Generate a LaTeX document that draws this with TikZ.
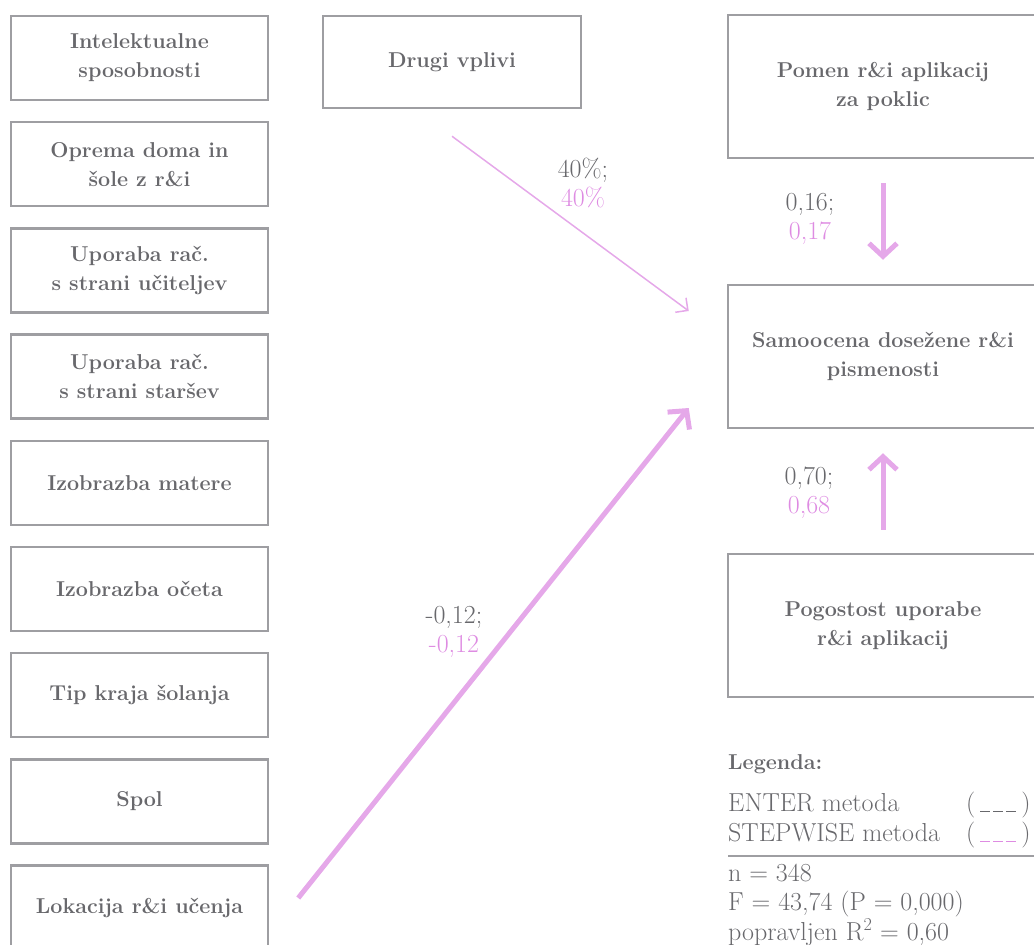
\documentclass[tikz,border=0pt]{standalone}
\usepackage{fontspec}
\usetikzlibrary{arrows.meta}
\definecolor{txtgray}{RGB}{104,104,108}
\definecolor{boxgray}{RGB}{158,158,162}
\definecolor{pinkline}{RGB}{229,168,233}
\definecolor{pinktxt}{RGB}{222,140,226}
% short dashed blank used in the legend keys
\newcommand{\blankkey}{\rule[-1pt]{10pt}{1.5pt}\hspace{3pt}\rule[-1pt]{10pt}{1.5pt}\hspace{3pt}\rule[-1pt]{10pt}{1.5pt}}
\begin{document}
\begin{tikzpicture}[x=1pt,y=-1pt,
  varbox/.style={draw=boxgray,line width=2.5pt,fill=white,minimum width=257pt,
    minimum height=84pt,inner sep=0pt,align=center,text=txtgray,
    font=\fontsize{21.5}{29}\selectfont\bfseries},
  bigbox/.style={varbox,minimum width=310pt,minimum height=143pt},
  coefg/.style={anchor=base,text=txtgray,font=\fontsize{26}{29}\selectfont,inner sep=0pt},
  coefp/.style={coefg,text=pinktxt},
  legtext/.style={anchor=base west,text=txtgray,font=\fontsize{26}{29}\selectfont,inner sep=0pt},
  effect/.style={draw=pinkline,line width=5pt,-{Straight Barb[length=13pt,width=28pt]}},
  weak/.style={draw=pinkline,line width=1.5pt,-{Straight Barb[length=9pt,width=18pt]}}
]
\useasboundingbox (0,0) rectangle (1034,945);
\begin{scope}
\clip (0,0) rectangle (1034,945);

% predictor variables
\node[varbox] (v1) at (139.5,58)    {Intelektualne\\sposobnosti};
\node[varbox] (v2) at (139.5,164.2) {Oprema doma in\\šole z r\&i};
\node[varbox] (v3) at (139.5,270.4) {Uporaba rač.\\s strani učiteljev};
\node[varbox] (v4) at (139.5,376.6) {Uporaba rač.\\s strani staršev};
\node[varbox] (v5) at (139.5,482.8) {Izobrazba matere};
\node[varbox] (v6) at (139.5,589)   {Izobrazba očeta};
\node[varbox] (v7) at (139.5,695.2) {Tip kraja šolanja};
\node[varbox] (v8) at (139.5,801.4) {Spol};
\node[varbox] (lok) at (139.5,907.6) {Lokacija r\&i učenja};

\node[varbox,minimum width=258pt,minimum height=92pt] (drugi) at (452,62) {Drugi vplivi};

% right column
\node[bigbox] (pomen) at (883,86.5)  {Pomen r\&i aplikacij\\za poklic};
\node[bigbox] (samo)  at (883,356.5) {Samoocena dosežene r\&i\\pismenosti};
\node[bigbox] (pogo)  at (883,625.5) {Pogostost uporabe\\r\&i aplikacij};

% effects
\draw[effect] ([yshift=-24pt]pomen.south) -- ([yshift=24pt]samo.north);
\draw[effect] ([yshift=23pt]pogo.north) -- ([yshift=-24pt]samo.south);
\draw[weak] ([yshift=-27pt]drugi.south) -- ([xshift=-38pt,yshift=45.5pt]samo.west);
\draw[effect] ([xshift=29pt,yshift=9.6pt]lok.east) -- ([xshift=-38pt,yshift=-51.5pt]samo.west);

% coefficients: ENTER; STEPWISE
\node[coefg] (c1a) at (583,177) {40\%;};
\node[coefp] (c1b) at (583,206) {40\%};
\node[coefg] (c2a) at (810,210) {0,16;};
\node[coefp] (c2b) at (810,239) {0,17};
\node[coefg] (c3a) at (809,484) {0,70;};
\node[coefp] (c3b) at (809,513) {0,68};
\node[coefg] (c4a) at (454,623) {-0,12;};
\node[coefp] (c4b) at (454,652) {-0,12};

% legend
\node[legtext,font=\fontsize{21.5}{29}\selectfont\bfseries] (leg) at (728,769) {Legenda:};
\node[legtext] (enter) at (728,811) {ENTER metoda};
\node[legtext] (step)  at (728,841) {STEPWISE metoda};
\node[legtext] (enterk) at (966,811) {(\hspace{5pt}\blankkey\hspace{5pt})};
\node[legtext] (stepk)  at (966,841) {(\hspace{5pt}\textcolor{pinktxt}{\blankkey}\hspace{5pt})};
\coordinate (rl) at (728,856);
\coordinate (rr) at (1040,856);
\draw[boxgray,line width=2.5pt] (rl) -- (rr);
\node[legtext] (nn) at (728,881) {n = 348};
\node[legtext] (ff) at (728,910) {F = 43,74 (P = 0,000)};
\node[legtext] (rr2) at (728,940) {popravljen R\textsuperscript{2} = 0,60};
\end{scope}
\end{tikzpicture}
\end{document}
